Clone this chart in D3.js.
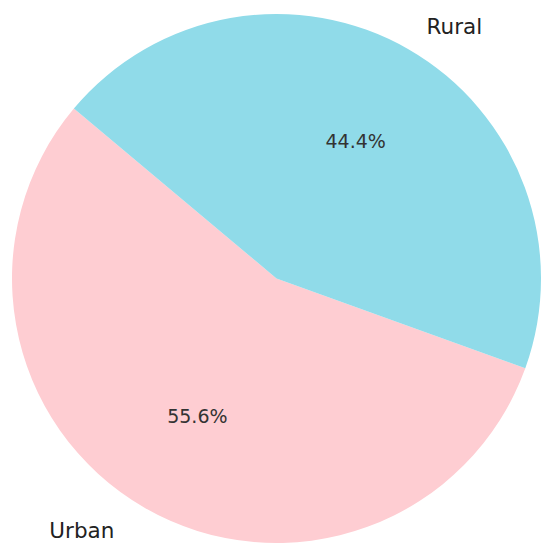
<!DOCTYPE html>
<html>
<head>
<meta charset="utf-8">
<script src="https://cdn.jsdelivr.net/npm/d3@7/dist/d3.min.js"></script>
<style>
  html, body { margin: 0; padding: 0; background: #ffffff; }
  svg { display: block; }
</style>
</head>
<body>
<script>
const categories = ["Urban", "Rural"];
const values = [55.6, 44.4];
const colors = ["#fecdd2", "#90dbe9"];

const W = 550, H = 551;
const cx = 276.5, cy = 278.5, R = 264.5;
const startDeg = 140; // matplotlib-style start angle, counterclockwise

const svg = d3.select("body").append("svg").attr("width", W).attr("height", H);
const g = svg.append("g").attr("transform", `translate(${cx},${cy})`);

const data = categories.map((c, i) => ({ name: c, value: values[i], color: colors[i] }));

// d3 angles: 0 at 12 o'clock, clockwise. matplotlib start 140° ccw from 3 o'clock -> d3 angle = 90-140
const start = (90 - startDeg) * Math.PI / 180;
const pie = d3.pie().value(d => d.value).sort(null)
  .startAngle(start).endAngle(start - 2 * Math.PI);
const arcs = pie(data);

const arc = d3.arc().innerRadius(0).outerRadius(R);
g.selectAll("path.slice").data(arcs).enter().append("path")
  .attr("class", "slice")
  .attr("d", arc)
  .attr("fill", d => d.data.color);

const pctArc = d3.arc().innerRadius(R * 0.6).outerRadius(R * 0.6);
g.selectAll("text.pct").data(arcs).enter().append("text")
  .attr("class", "pct")
  .attr("transform", d => { const [x, y] = pctArc.centroid(d); return `translate(${x},${y})`; })
  .attr("text-anchor", "middle")
  .attr("dominant-baseline", "central")
  .style("font-family", "DejaVu Sans, sans-serif")
  .style("font-size", "19px")
  .style("fill", "#333333")
  .text(d => d.data.value.toFixed(1) + "%");

const lblArc = d3.arc().innerRadius(R * 1.1).outerRadius(R * 1.1);
const nudge = { Urban: -17, Rural: 5 };
g.selectAll("text.lbl").data(arcs).enter().append("text")
  .attr("class", "lbl")
  .attr("transform", d => { const [x, y] = lblArc.centroid(d); return `translate(${x + nudge[d.data.name]},${y})`; })
  .attr("text-anchor", d => lblArc.centroid(d)[0] > 0 ? "start" : "end")
  .attr("dominant-baseline", "central")
  .style("font-family", "DejaVu Sans, sans-serif")
  .style("font-size", "21.5px")
  .style("fill", "#222222")
  .text(d => d.data.name);
</script>
</body>
</html>
